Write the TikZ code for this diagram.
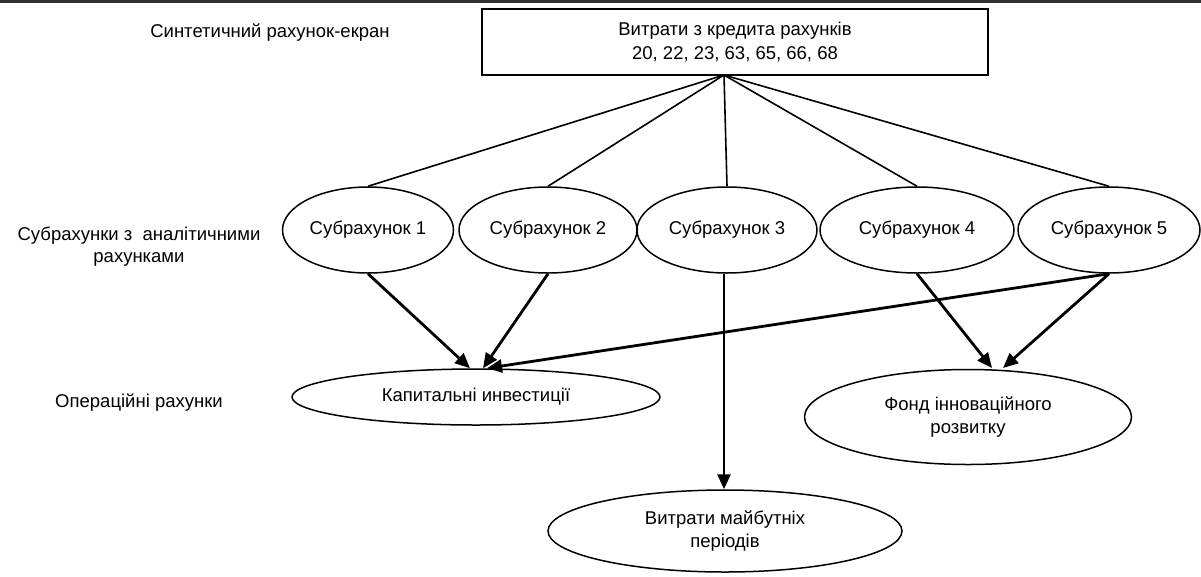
\documentclass[tikz,border=0pt]{standalone}
\usepackage{fontspec}
\setmainfont{Liberation Sans}
\usetikzlibrary{arrows.meta,shapes.geometric}
\begin{document}
\begin{tikzpicture}[x=1pt,y=-1pt,
  lbl/.style={font=\fontsize{18.5}{22}\selectfont, align=center, inner sep=0pt},
  ell/.style={ellipse, draw, line width=1.5pt, inner sep=0pt, font=\fontsize{18.5}{23}\selectfont, align=center},
  topbox/.style={draw, line width=2pt, inner sep=0pt, font=\fontsize{18.5}{24}\selectfont, align=center},
  link/.style={line width=1.6pt},
  arr/.style={line width=2.8pt, -{Triangle[length=15pt,width=13pt]}}]
\useasboundingbox (0,0) rectangle (1201,576);
\draw[line width=3pt, black!80] (0,1.2) -- (1201,1.2);

\node[lbl] (t1) at (270,33) {Синтетичний рахунок-екран};
\node[lbl] (t2) at (139,247) {Субрахунки з\ \ аналітичними\\рахунками};
\node[lbl] (t3) at (139,403) {Операційні рахунки};

\node[topbox, minimum width=506pt, minimum height=66pt] (box) at (735,42) {Витрати з кредита рахунків\\20, 22, 23, 63, 65, 66, 68};
\coordinate (hub) at (724,75);

\node[ell, minimum width=171pt, minimum height=86pt] (s1) at (368,230) {Субрахунок 1};
\node[ell, minimum width=178pt, minimum height=86pt] (s2) at (548,230) {Субрахунок 2};
\node[ell, minimum width=180pt, minimum height=86pt] (s3) at (727,230) {Субрахунок 3};
\node[ell, minimum width=194pt, minimum height=86pt] (s4) at (917,230) {Субрахунок 4};
\node[ell, minimum width=182pt, minimum height=86pt] (s5) at (1109,230) {Субрахунок 5};

\node[ell, minimum width=368pt, minimum height=56pt] (kap) at (476,397) {Капитальні инвестиції};
\node[ell, minimum width=327pt, minimum height=95pt] (fond) at (968,417) {Фонд інноваційного\\розвитку};
\node[ell, minimum width=354pt, minimum height=82pt] (fut) at (725,531) {Витрати майбутніх\\періодів};

\foreach \s in {s1,s2,s3,s4,s5} \draw[link] (hub) -- (\s.north);

\coordinate (k1) at ([xshift=-6pt]kap.north);
\coordinate (k2) at ([xshift=7pt]kap.north);
\coordinate (k3) at ([xshift=11pt]kap.north);
\coordinate (f1) at (992,368);
\coordinate (f2) at (1003,368);

\draw[arr] (s1.south) -- (k1);
\draw[arr] (s2.south) -- (k2);
\draw[arr] (s5.south) -- (k3);
\draw[arr] (s4.south) -- (f1);
\draw[arr] (s5.south) -- (f2);
\draw[arr] (s3.south -| hub) -- (fut.north -| hub);
\end{tikzpicture}
\end{document}
